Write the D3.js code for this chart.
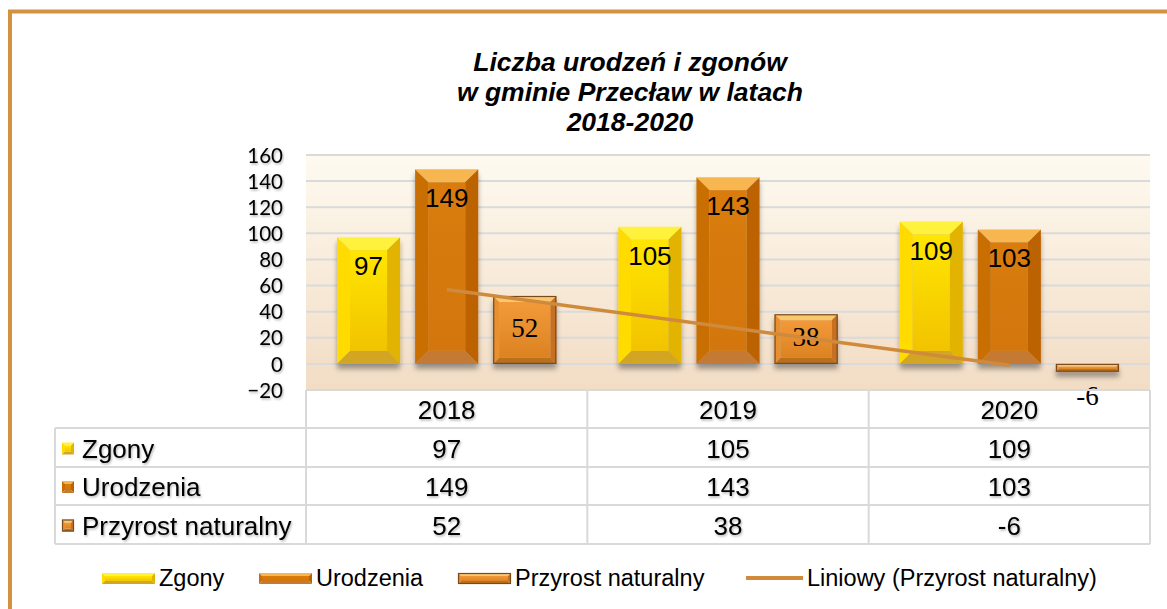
<!DOCTYPE html>
<html>
<head>
<meta http-equiv="Content-Type" content="text/html;charset=utf-8"/>
<script src="https://d3js.org/d3.v7.min.js"></script>
<style type="text/css">
body { margin: 0; background: #fff; }
.grid { stroke: #dadada; stroke-width: 2px; }
.cell { fill: none; stroke: #d9d9d9; stroke-width: 2px; }
.tick text { font-family: Lato, "Open Sans", sans-serif; font-size: 20.5px; fill: #000; }
.title { font-family: "Liberation Sans", Arial, sans-serif; font-size: 26.5px; font-weight: bold; font-style: italic; }
.tbl { font-family: "Liberation Sans", Arial, sans-serif; font-size: 26px; fill: #000; }
.lbl { font-family: "Liberation Sans", Arial, sans-serif; font-size: 26px; fill: #000; }
.lbl-serif { font-family: "Liberation Serif", "Times New Roman", serif; font-size: 27px; fill: #000; }
.legend { font-family: "Liberation Sans", Arial, sans-serif; font-size: 23.5px; fill: #000; }
.trend { fill: none; stroke: #d08a3c; stroke-width: 3.5px; }
</style>
</head>
<body>
<script>

// data
var years = ["2018", "2019", "2020"];
var zgony = [97, 105, 109];
var urodzenia = [149, 143, 103];
var przyrost = [52, 38, -6];
var seriesNames = ["Zgony", "Urodzenia", "Przyrost naturalny"];
var yTicks = [-20, 0, 20, 40, 60, 80, 100, 120, 140, 160];
var titleLines = ["Liczba urodzeń i zgonów", "w gminie Przecław w latach", "2018-2020"];
var trendName = "Liniowy (Przyrost naturalny)";

var width = 1167, height = 609;
var plot = {left: 306, right: 1150, top: 155, bottom: 390};
var tableLeft = 55;
var rowLines = [390, 428, 467, 505, 544];

// bevel colour sets: face top, face bottom, top, left, right, bottom, stroke
var palettes = [
  {f1: "#ffe600", f2: "#f2c300", t: "#fff23c", l: "#ffdb00", r: "#e2b300", b: "#d2a620", s: "none", bev: 13},
  {f1: "#d97c0a", f2: "#d3760a", t: "#f7b650", l: "#c96e06", r: "#bc6200", b: "#c47a30", s: "none", bev: 13},
  {f1: "#f29a3a", f2: "#dc8222", t: "#f8c870", l: "#e8902e", r: "#c87020", b: "#b8701e", s: "#7a4a1c", bev: 6}
];

var svg = d3.select("body").append("svg")
    .attr("width", width)
    .attr("height", height);

var defs = svg.append("defs");

var bg = defs.append("linearGradient").attr("id", "bg")
    .attr("x1", 0).attr("y1", 0).attr("x2", 0).attr("y2", 1);
bg.append("stop").attr("offset", "0%").attr("stop-color", "#fefaf0");
bg.append("stop").attr("offset", "100%").attr("stop-color", "#f2dcc4");

palettes.forEach(function(p, i) {
  var g = defs.append("linearGradient").attr("id", "face" + i)
      .attr("x1", 0).attr("y1", 0).attr("x2", 0).attr("y2", 1);
  g.append("stop").attr("offset", "0%").attr("stop-color", p.f1);
  g.append("stop").attr("offset", "100%").attr("stop-color", p.f2);
});

var shadow = defs.append("filter").attr("id", "shadow")
    .attr("x", "-20%").attr("y", "-20%").attr("width", "140%").attr("height", "160%");
shadow.append("feDropShadow").attr("dx", 0).attr("dy", 5).attr("stdDeviation", 2.5)
    .attr("flood-color", "#000").attr("flood-opacity", 0.35);

var tshadow = defs.append("filter").attr("id", "tshadow")
    .attr("x", "-10%").attr("y", "-30%").attr("width", "130%").attr("height", "160%");
tshadow.append("feDropShadow").attr("dx", 1).attr("dy", 1.5).attr("stdDeviation", 0.8)
    .attr("flood-color", "#000").attr("flood-opacity", 0.3);

// frame
svg.append("path")
    .attr("d", "M10," + height + "V11.5H" + width)
    .attr("fill", "none")
    .attr("stroke", "#d4913f")
    .attr("stroke-width", 4);

// title
svg.append("text")
    .attr("class", "title")
    .attr("text-anchor", "middle")
    .selectAll("tspan")
    .data(titleLines)
    .enter().append("tspan")
    .attr("x", 630)
    .attr("y", function(d, i) { return 71 + i * 30; })
    .text(function(d) { return d; });

// scales
var x = d3.scaleBand().domain(years).range([plot.left, plot.right]);
var xs = d3.scaleBand().domain(seriesNames).range([0, x.bandwidth()])
    .paddingInner(0.192).paddingOuter(0.397);
var y = d3.scaleLinear().domain([-20, 160]).range([plot.bottom, plot.top]);

// plot background + grid
svg.append("rect")
    .attr("x", plot.left).attr("y", plot.top)
    .attr("width", plot.right - plot.left).attr("height", plot.bottom - plot.top)
    .attr("fill", "url(#bg)");

svg.append("g").selectAll("line")
    .data(yTicks.filter(function(d) { return d > -20; }))
    .enter().append("line")
    .attr("class", "grid")
    .attr("x1", plot.left).attr("x2", plot.right)
    .attr("y1", function(d) { return y(d); })
    .attr("y2", function(d) { return y(d); });

var yAxis = svg.append("g")
    .attr("transform", "translate(" + plot.left + ",0)")
    .attr("filter", "url(#tshadow)")
    .call(d3.axisLeft(y).tickValues(yTicks).tickSize(0).tickPadding(23));
yAxis.select(".domain").remove();
yAxis.selectAll(".tick text").attr("dy", "0.35em");

// bevelled bar
function bevelBar(g, bx, by, bw, bh, p, bev) {
  var b = Math.min(bev, bh / 3, bw / 3);
  var x0 = bx, x1 = bx + bw, y0 = by, y1 = by + bh;
  function poly(pts, fill) {
    g.append("polygon")
      .attr("points", pts.map(function(q) { return q.join(","); }).join(" "))
      .attr("fill", fill);
  }
  poly([[x0, y0], [x1, y0], [x1 - b, y0 + b], [x0 + b, y0 + b]], p.t);
  poly([[x0, y0], [x0 + b, y0 + b], [x0 + b, y1 - b], [x0, y1]], p.l);
  poly([[x1, y0], [x1, y1], [x1 - b, y1 - b], [x1 - b, y0 + b]], p.r);
  poly([[x0, y1], [x0 + b, y1 - b], [x1 - b, y1 - b], [x1, y1]], p.b);
  g.append("rect")
    .attr("x", x0 + b).attr("y", y0 + b)
    .attr("width", Math.max(0, bw - 2 * b)).attr("height", Math.max(0, bh - 2 * b))
    .attr("fill", "url(#face" + palettes.indexOf(p) + ")");
  if (p.s !== "none") {
    g.append("rect")
      .attr("x", x0 + 0.5).attr("y", y0 + 0.5)
      .attr("width", bw - 1).attr("height", bh - 1)
      .attr("fill", "none").attr("stroke", p.s).attr("stroke-width", 1.2);
  }
}

var seriesValues = [zgony, urodzenia, przyrost];
var bars = svg.append("g").attr("filter", "url(#shadow)");

seriesValues.forEach(function(vals, si) {
  vals.forEach(function(v, ci) {
    var bx = x(years[ci]) + xs(seriesNames[si]);
    var top = y(Math.max(0, v)), bot = y(Math.min(0, v));
    var g = bars.append("g");
    bevelBar(g, bx, top, xs.bandwidth(), bot - top, palettes[si], palettes[si].bev);
  });
});

// data labels
var labels = svg.append("g");
seriesValues.forEach(function(vals, si) {
  vals.forEach(function(v, ci) {
    var cx = x(years[ci]) + xs(seriesNames[si]) + xs.bandwidth() / 2;
    var ly;
    if (si < 2) ly = y(v) + 29;
    else if (v >= 0) ly = (y(v) + y(0)) / 2 - 2;
    else ly = y(v) + 24;
    labels.append("text")
      .attr("class", si < 2 ? "lbl" : "lbl-serif")
      .attr("x", cx).attr("y", ly)
      .attr("text-anchor", "middle")
      .attr("dominant-baseline", "central")
      .text(v);
  });
});

// linear trend of Przyrost naturalny (least squares)
var n = przyrost.length;
var mx = (n - 1) / 2, my = d3.mean(przyrost);
var slope = d3.sum(przyrost, function(v, i) { return (i - mx) * (v - my); }) /
            d3.sum(przyrost, function(v, i) { return (i - mx) * (i - mx); });
var trend = years.map(function(yr, i) { return [x(yr) + x.bandwidth() / 2, y(my + slope * (i - mx))]; });

svg.append("path")
    .attr("class", "trend")
    .attr("d", d3.line()([trend[0], trend[n - 1]]));

// table
var table = svg.append("g");
table.append("line").attr("class", "cell")
    .attr("x1", plot.left).attr("x2", plot.right).attr("y1", rowLines[0]).attr("y2", rowLines[0]);
rowLines.slice(1).forEach(function(ry) {
  table.append("line").attr("class", "cell")
    .attr("x1", tableLeft).attr("x2", plot.right).attr("y1", ry).attr("y2", ry);
});
var vLines = [plot.left].concat(years.map(function(yr) { return x(yr) + x.bandwidth(); }));
vLines.forEach(function(vx) {
  table.append("line").attr("class", "cell")
    .attr("x1", vx).attr("x2", vx).attr("y1", rowLines[0]).attr("y2", rowLines[4]);
});
table.append("line").attr("class", "cell")
    .attr("x1", tableLeft).attr("x2", tableLeft).attr("y1", rowLines[1]).attr("y2", rowLines[4]);

var ttext = svg.append("g").attr("filter", "url(#tshadow)");
years.forEach(function(yr) {
  ttext.append("text").attr("class", "tbl")
    .attr("x", x(yr) + x.bandwidth() / 2)
    .attr("y", (rowLines[0] + rowLines[1]) / 2 + 1)
    .attr("text-anchor", "middle").attr("dominant-baseline", "central")
    .text(yr);
});
seriesNames.forEach(function(name, si) {
  var cy = (rowLines[si + 1] + rowLines[si + 2]) / 2 + 1;
  bevelBar(table.append("g"), 62, cy - 6, 12, 12, palettes[si], 3);
  ttext.append("text").attr("class", "tbl")
    .attr("x", 82).attr("y", cy)
    .attr("dominant-baseline", "central")
    .text(name);
  seriesValues[si].forEach(function(v, ci) {
    ttext.append("text").attr("class", "tbl")
      .attr("x", x(years[ci]) + x.bandwidth() / 2).attr("y", cy)
      .attr("text-anchor", "middle").attr("dominant-baseline", "central")
      .text(v);
  });
});

// legend
var legendX = [102, 259, 458];
var legendY = 578;
seriesNames.forEach(function(name, si) {
  bevelBar(svg.append("g"), legendX[si], legendY - 5, 53, 11, palettes[si], 3);
  svg.append("text").attr("class", "legend")
    .attr("x", legendX[si] + 57).attr("y", legendY)
    .attr("dominant-baseline", "central")
    .text(name);
});
svg.append("line").attr("class", "trend")
    .attr("x1", 746).attr("x2", 803).attr("y1", legendY).attr("y2", legendY)
    .style("stroke-width", "4px");
svg.append("text").attr("class", "legend")
    .attr("x", 807).attr("y", legendY)
    .attr("dominant-baseline", "central")
    .text(trendName);

</script>
</body>
</html>
